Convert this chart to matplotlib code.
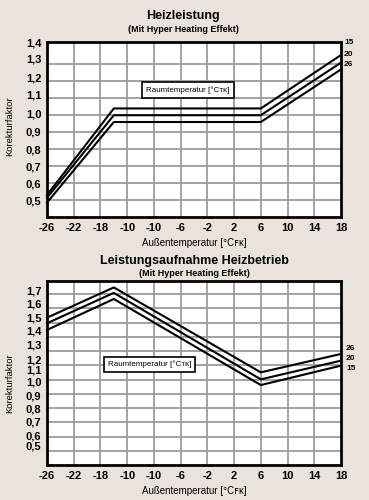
import matplotlib
matplotlib.use("Agg")
import matplotlib.pyplot as plt

plt.rcParams['font.family'] = ['Liberation Sans Narrow', 'Liberation Sans', 'DejaVu Sans']

# x positions (Außentemperatur), tick labels as printed on the original
x_ticks = [-26, -22, -18, -14, -10, -6, -2, 2, 6, 10, 14, 18]
x_labels = ["-26", "-22", "-18", "-10", "-10", "-6", "-2", "2", "6", "10", "14", "18"]

# Heizleistung
heat_x = [-26, -16, 6, 18]
heat_15 = [0.53, 1.04, 1.04, 1.355]
heat_20 = [0.513, 1.0, 1.0, 1.31]
heat_26 = [0.485, 0.96, 0.96, 1.27]
heat_yticks = [1.43, 1.332, 1.225, 1.123, 1.013, 0.906, 0.8, 0.7, 0.6, 0.5]
heat_ylabels = ["1,4", "1,3", "1,2", "1,1", "1,0", "0,9", "0,8", "0,7", "0,6", "0,5"]
heat_grid = [0.5, 0.6, 0.7, 0.8, 0.9, 1.0, 1.1, 1.2, 1.3]

# Leistungsaufnahme Heizbetrieb
power_x = [-26, -16, 6, 18]
power_26 = [1.534, 1.746, 1.151, 1.28]
power_20 = [1.495, 1.708, 1.102, 1.233]
power_15 = [1.448, 1.665, 1.062, 1.198]
power_yticks = [1.723, 1.635, 1.537, 1.441, 1.348, 1.243, 1.173, 1.089,
                0.986, 0.896, 0.81, 0.712, 0.637]
power_ylabels = ["1,7", "1,6", "1,5", "1,4", "1,3", "1,2", "1,1", "1,0",
                 "0,9", "0,8", "0,7", "0,6", "0,5"]
power_grid = [0.6, 0.7, 0.8, 0.9, 1.0, 1.1, 1.2, 1.3, 1.4, 1.5, 1.6, 1.7]

bg = "#e9e3db"
bold_font = ['Liberation Sans', 'DejaVu Sans']
fig = plt.figure(figsize=(3.69, 5.0), dpi=100, facecolor=bg)


def setup(ax, ylim, yticks, ylabels, grid):
    ax.set_xlim(-26, 18)
    ax.set_ylim(*ylim)
    ax.set_xticks(x_ticks)
    ax.set_xticklabels(x_labels, fontsize=8, fontweight="bold", family=bold_font)
    ax.set_yticks(yticks)
    ax.set_yticklabels(ylabels, fontsize=8, fontweight="bold", family=bold_font)
    ax.tick_params(length=0, pad=4)
    for v in x_ticks[1:-1]:
        ax.axvline(v, color="#9c9c9c", lw=1.3, zorder=1)
    for v in grid:
        ax.axhline(v, color="#9c9c9c", lw=1.3, zorder=1)
    for s in ax.spines.values():
        s.set_linewidth(2)
    ax.set_xlabel("Außentemperatur [°Cꜰᴋ]", fontsize=7, labelpad=4)


legend_box = dict(boxstyle="square,pad=0.5", fc="white", ec="black", lw=1.2)

# top chart
ax1 = fig.add_axes([0.1274, 0.566, 0.7967, 0.3494])
setup(ax1, (0.4, 1.4), heat_yticks, heat_ylabels, heat_grid)
for ys in (heat_15, heat_20, heat_26):
    ax1.plot(heat_x, ys, color="black", lw=1.5, zorder=3, clip_on=False)
for lab, ypx in zip(["15", "20", "26"], [43, 54, 65]):
    fig.text(344 / 369, 1 - ypx / 500, lab, fontsize=6, fontweight="bold",
             va="center", ha="left", family=bold_font)
fig.text(188 / 369, 1 - 90 / 500, "Raumtemperatur [°Cᴛᴋ]", fontsize=5.8,
         ha="center", va="center", bbox=legend_box)
fig.text(183 / 369, 1 - 16 / 500, "Heizleistung", fontsize=9, fontweight="bold",
         ha="center", va="center", family=bold_font)
fig.text(183 / 369, 1 - 29 / 500, "(Mit Hyper Heating Effekt)", fontsize=6.5,
         fontweight="bold", ha="center", va="center")
fig.text(10 / 369, 1 - 126 / 500, "Korekturfaktor", fontsize=6.8, rotation=90,
         ha="center", va="center")

# bottom chart
ax2 = fig.add_axes([0.1274, 0.07, 0.7967, 0.368])
setup(ax2, (0.502, 1.791), power_yticks, power_ylabels, power_grid)
for ys in (power_26, power_20, power_15):
    ax2.plot(power_x, ys, color="black", lw=1.5, zorder=3, clip_on=False)
for lab, ypx in zip(["26", "20", "15"], [349, 359, 369]):
    fig.text(346 / 369, 1 - ypx / 500, lab, fontsize=6, fontweight="bold",
             va="center", ha="left", family=bold_font)
fig.text(149.5 / 369, 1 - 364.5 / 500, "Raumtemperatur [°Cᴛᴋ]", fontsize=5.8,
         ha="center", va="center", bbox=legend_box)
fig.text(194 / 369, 1 - 261 / 500, "Leistungsaufnahme Heizbetrieb", fontsize=9,
         fontweight="bold", ha="center", va="center", family=bold_font)
fig.text(194 / 369, 1 - 273 / 500, "(Mit Hyper Heating Effekt)", fontsize=6.5,
         fontweight="bold", ha="center", va="center")
fig.text(10 / 369, 1 - 383 / 500, "Korekturfaktor", fontsize=6.8, rotation=90,
         ha="center", va="center")

fig.savefig("out.png", dpi=100, facecolor=bg)
